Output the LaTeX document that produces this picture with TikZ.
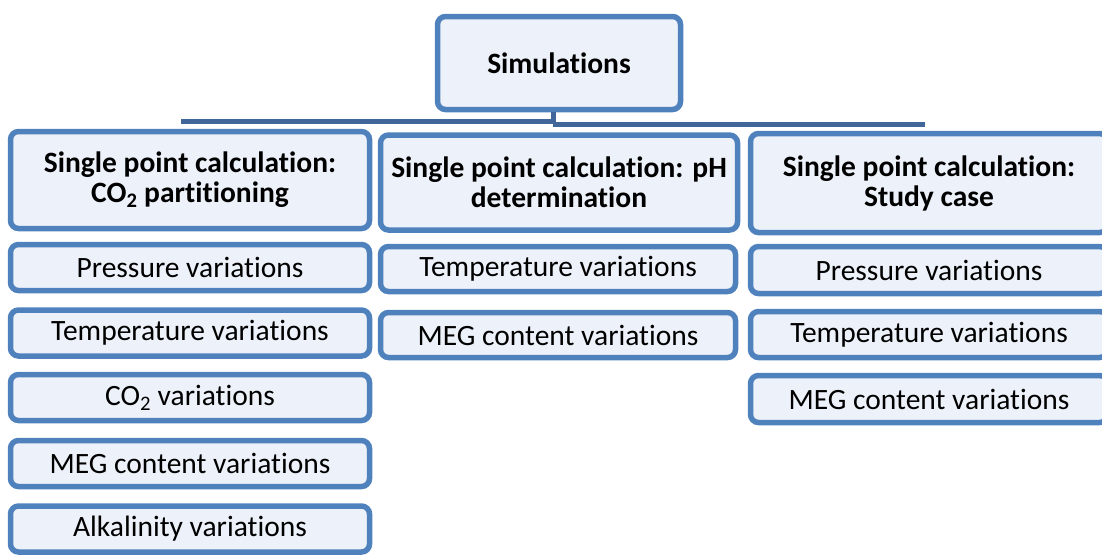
\documentclass[tikz,border=0pt]{standalone}
\usepackage{fontspec}
\setmainfont{Carlito}[Ligatures=NoCommon]
\definecolor{boxborder}{HTML}{4F81BD}
\definecolor{boxfill}{HTML}{EDF1F9}
\definecolor{barblue}{HTML}{41679A}
\begin{document}
\begin{tikzpicture}[x=1pt,y=-1pt,
  box/.style={draw=boxborder,fill=boxfill,line width=5.5pt,rounded corners=8pt,
    inner sep=0pt,align=center,font=\fontsize{29.5}{30}\selectfont},
  headbox/.style={box,font=\fontsize{29.5}{30}\selectfont\bfseries},
  bar/.style={draw=barblue,line width=5pt}]
\useasboundingbox (0,0) rectangle (1102,555);
\clip (0,0) rectangle (1102,555);
% top
\node[headbox,minimum width=243pt,minimum height=93pt] (sim) at (559,63) {Simulations};
% bar
\coordinate (barL) at (181,121);
\coordinate (barM) at (553,121);
\coordinate (barM2) at (553,124);
\coordinate (barR) at (925,124);
\draw[bar] (sim.south -| barM) -- (barM2);
\draw[bar] (barL) -- (barM);
\draw[bar] (barM2) -- (barR);
% level 2
\node[headbox,minimum width=359pt,minimum height=97pt] (co2) at (190,180) {Single point calculation:\\CO\textsubscript{2} partitioning};
\node[headbox,minimum width=357pt,minimum height=95pt] (ph) at (559,182.5) {Single point calculation: pH\\determination};
\node[headbox,minimum width=357pt,minimum height=99pt] (sc) at (929,183) {Single point calculation:\\Study case};
% left column
\node[box,minimum width=359pt,minimum height=46pt] (l1) at (190,267.5) {Pressure variations};
\node[box,minimum width=359pt,minimum height=46pt] (l2) at (190,333) {Temperature variations};
\node[box,minimum width=359pt,minimum height=46pt] (l3) at (190,397.5) {CO\textsubscript{2} variations};
\node[box,minimum width=359pt,minimum height=46pt] (l4) at (190,463.5) {MEG content variations};
\node[box,minimum width=359pt,minimum height=46pt] (l5) at (190,529) {Alkalinity variations};
% middle column
\node[box,minimum width=355pt,minimum height=45pt] (m1) at (558,269) {Temperature variations};
\node[box,minimum width=355pt,minimum height=45pt] (m2) at (558,335) {MEG content variations};
% right column
\node[box,minimum width=357pt,minimum height=47pt] (r1) at (929,270) {Pressure variations};
\node[box,minimum width=357pt,minimum height=46pt] (r2) at (929,334.5) {Temperature variations};
\node[box,minimum width=357pt,minimum height=47pt] (r3) at (929,399) {MEG content variations};
\end{tikzpicture}
\end{document}
